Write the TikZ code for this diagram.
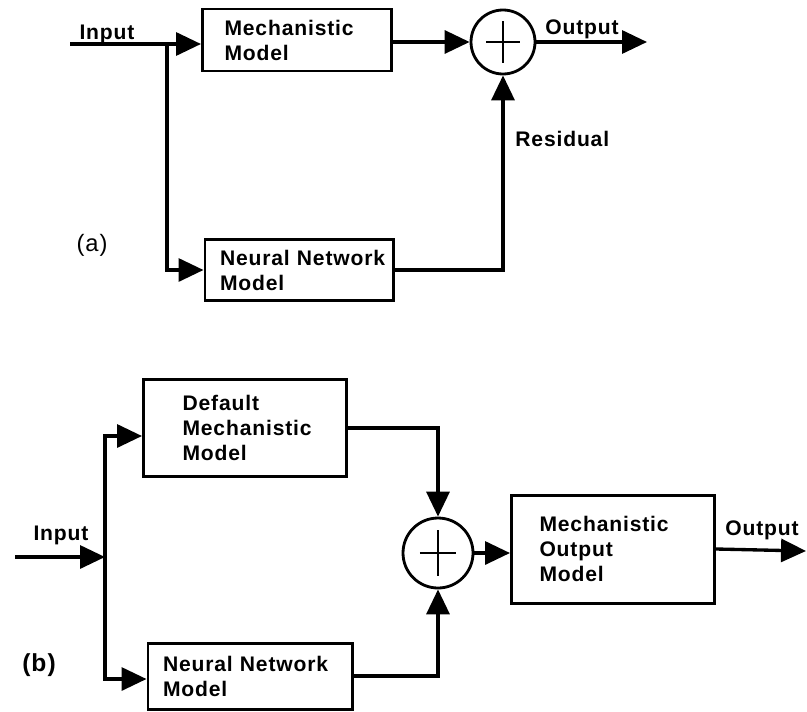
\documentclass[tikz,border=0pt]{standalone}
\usepackage{fontspec}
\setmainfont{Liberation Sans}[LetterSpace=4]
\usepackage{tikz}
\usetikzlibrary{arrows.meta,positioning,calc}
\hyphenpenalty=10000

\begin{document}
\begin{tikzpicture}[
    x=0.2mm, y=-0.2mm,
    arr/.style={-{Triangle[length=5mm,width=4.6mm]}, line width=1.9pt},
    blk/.style={draw, line width=1.7pt, align=left, inner ysep=0pt,
                font=\bfseries\fontsize{12}{14.2}\selectfont},
    lbl/.style={font=\bfseries\fontsize{12}{14}\selectfont, inner sep=0pt},
    sumnode/.style={circle, draw, line width=1.6pt, minimum size=#1, inner sep=0pt,
      path picture={\draw[line width=1.6pt]
        ($(path picture bounding box.center)!0.52!(path picture bounding box.west)$) --
        ($(path picture bounding box.center)!0.52!(path picture bounding box.east)$)
        ($(path picture bounding box.center)!0.65!(path picture bounding box.north)$) --
        ($(path picture bounding box.center)!0.65!(path picture bounding box.south)$);}},
    sumnode/.default=1.3cm,
  ]
  \useasboundingbox (0,0) rectangle (807,711);

  % (a) residual scheme
  \node[blk, text width=2.9cm, inner xsep=0.44cm, minimum height=1.24cm] (mech) at (297,40)
    {Mechanistic\\Model};
  \node[blk, text width=3.16cm, inner xsep=0.3cm, minimum height=1.22cm] (nn1) at (299,270)
    {Neural~Network\\Model};
  \node[sumnode=1.28cm] (sum1) at (503,42) {};
  \coordinate (in1) at (70,44);
  \coordinate (br1) at (167,44);
  \coordinate (out1) at (647,42);

  \draw[arr] (in1) -- (mech.west |- in1);
  \draw[arr] (br1) |- (nn1.west);
  \draw[arr] (mech.east |- sum1) -- (sum1.west);
  \draw[arr] (nn1.east) -| (sum1.south);
  \draw[arr] (sum1.east) -- (out1);

  \node[lbl, anchor=base] (inlbl1) at (107,39) {Input};
  \node[lbl, anchor=base] (outlbl1) at (582,35) {Output};
  \node[lbl, anchor=base west] (reslbl) at (515,146) {Residual};
  \node[font=\fontsize{13.5}{15}\selectfont, inner sep=0pt] (tagA) at (92,245) {(a)};

  % (b) hybrid scheme
  \node[blk, text width=2.5cm, inner xsep=0.78cm, minimum height=1.94cm] (def) at (245,428)
    {Default\\Mechanistic\\Model};
  \node[blk, text width=2.94cm, inner xsep=0.56cm, minimum height=2.16cm] (mout) at (613,549)
    {Mechanistic\\Output\\Model};
  \node[blk, text width=3.48cm, inner xsep=0.3cm, minimum height=1.32cm] (nn2) at (250,676)
    {Neural~Network\\Model};
  \node[sumnode=1.4cm] (sum2) at (438,553) {};
  \coordinate (in2) at (15,557);
  \coordinate (br2) at (105,557);
  \coordinate (out2) at (806,551);

  \draw[arr] (in2) -- (br2);
  \draw[arr] (br2) |- ([yshift=-0.16cm]def.west);
  \draw[arr] (br2) |- ([yshift=-0.06cm]nn2.west);
  \draw[arr] (def.east) -| (sum2.north);
  \draw[arr] (nn2.east) -| (sum2.south);
  \draw[arr] (sum2.east) -- (sum2 -| mout.west);
  \draw[arr] (mout.east) -- (out2);

  \node[lbl, anchor=base] (inlbl2) at (61,540) {Input};
  \node[lbl, anchor=base] (outlbl2) at (762,535) {Output};
  \node[font=\bfseries\fontsize{14}{16}\selectfont, inner sep=0pt] (tagB) at (39,665) {(b)};
\end{tikzpicture}
\end{document}
